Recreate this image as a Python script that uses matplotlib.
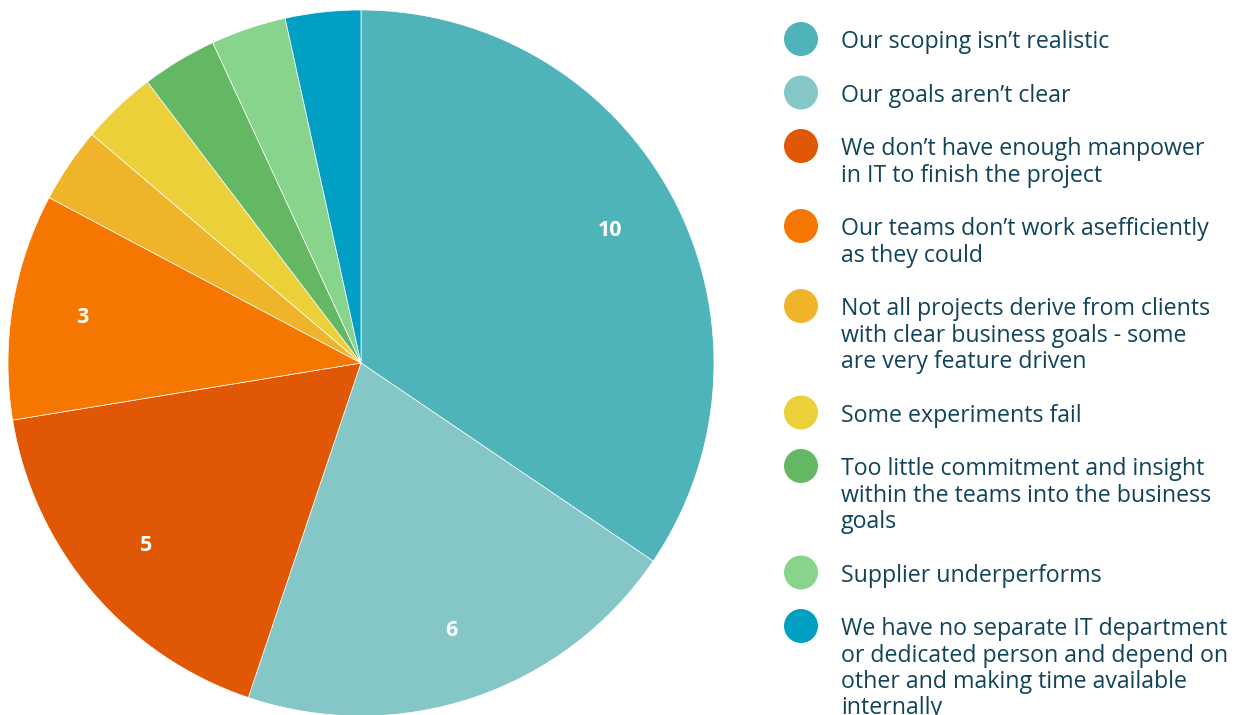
import numpy as np
import matplotlib.pyplot as plt
from matplotlib.patches import Circle

# Datos del gráfico
labels = [
    "Our scoping isn’t realistic",
    "Our goals aren’t clear",
    "We don’t have enough manpower\nin IT to finish the project",
    "Our teams don’t work asefficiently\nas they could",
    "Not all projects derive from clients\nwith clear business goals - some\nare very feature driven",
    "Some experiments fail",
    "Too little commitment and insight\nwithin the teams into the business\ngoals",
    "Supplier underperforms",
    "We have no separate IT department\nor dedicated person and depend on\nother and making time available\ninternally",
]
values = [10, 6, 5, 3, 1, 1, 1, 1, 1]
colors = ["#4fb4b9", "#85c6c6", "#e05706", "#f57600", "#f0b42a",
          "#ecd03a", "#65b863", "#88d48d", "#029fc4"]

W, H = 1239, 715
text_color = "#124459"
plt.rcParams['font.family'] = ['Open Sans', 'DejaVu Sans']

fig = plt.figure(figsize=(W / 100, H / 100), dpi=100)
ax = fig.add_axes([0, 0, 1, 1])

total = sum(values)

def fmt(pct):
    v = int(round(pct * total / 100))
    return str(v) if v > 1 else ""

wedges, texts = ax.pie(values, colors=colors, startangle=90, counterclock=False,
                       center=(361, H - 363), radius=353, frame=True,
                       autopct=fmt, pctdistance=0.8,
                       wedgeprops=dict(edgecolor='white', linewidth=0.5),
                       textprops=dict(color='white', fontsize=15.5, fontweight='bold'))[:2]

# Leyenda manual
y = 39
for lab, col in zip(labels, colors):
    ax.add_patch(Circle((801, H - y), 17, color=col, lw=0))
    for i, line in enumerate(lab.split("\n")):
        ax.text(841, H - (y + 26.5 * i), line, color=text_color, fontsize=16.7,
                ha='left', va='center_baseline')
    y += 53.5 + 26.5 * (lab.count("\n"))

ax.set_xlim(0, W)
ax.set_ylim(0, H)
ax.set_aspect('equal')
ax.axis('off')

plt.savefig('out.png', dpi=100)
